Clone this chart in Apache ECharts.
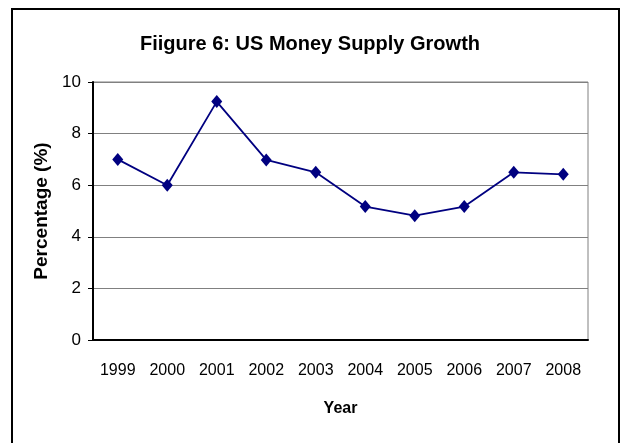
<!DOCTYPE html>
<html>
<head>
<meta charset="utf-8">
<script src="https://cdn.jsdelivr.net/npm/echarts@6/dist/echarts.min.js"></script>
<style>
  html, body { margin: 0; padding: 0; background: #fff; }
  #chart { width: 620px; height: 443px; }
</style>
</head>
<body>
<div id="chart"></div>
<script>
const years = ['1999', '2000', '2001', '2002', '2003', '2004', '2005', '2006', '2007', '2008'];
const growth = [7.0, 6.0, 9.24, 6.98, 6.5, 5.17, 4.82, 5.17, 6.5, 6.42];
const yTicks = { min: 0, max: 10, interval: 2 };

const font = '"Liberation Sans Narrow", "Arial Narrow", "Liberation Sans", Arial, sans-serif';

const chart = echarts.init(document.getElementById('chart'), null, { renderer: 'canvas' });
chart.setOption({
  animation: false,
  backgroundColor: '#fff',
  title: {
    text: 'Fiigure 6: US Money Supply Growth',
    left: 'center',
    top: 29,
    textStyle: { fontFamily: font, fontSize: 20, fontWeight: 'bold', color: '#000' },
  },
  graphic: [
    {
      type: 'rect',
      shape: { x: 12, y: 9, width: 607, height: 440 },
      style: { fill: 'none', stroke: '#000', lineWidth: 2 },
      silent: true,
    },
  ],
  grid: { left: 93, top: 82, width: 495, height: 258, show: true, borderColor: '#808080', borderWidth: 1 },
  xAxis: {
    type: 'category',
    data: years,
    boundaryGap: true,
    name: 'Year',
    nameLocation: 'middle',
    nameGap: 61,
    nameTextStyle: { fontFamily: font, fontSize: 16, fontWeight: 'bold', color: '#000' },
    axisLine: { lineStyle: { color: '#000', width: 2 } },
    axisTick: { show: false },
    axisLabel: { fontFamily: font, fontSize: 16, color: '#000', margin: 23 },
  },
  yAxis: {
    type: 'value',
    min: yTicks.min,
    max: yTicks.max,
    interval: yTicks.interval,
    name: 'Percentage (%)',
    nameLocation: 'middle',
    nameGap: 38,
    nameRotate: 90,
    nameTextStyle: { fontFamily: font, fontSize: 19, fontWeight: 'bold', color: '#000' },
    axisLine: { show: true, lineStyle: { color: '#000', width: 2 } },
    axisTick: { show: true, length: 5, lineStyle: { color: '#000' } },
    axisLabel: { fontFamily: font, fontSize: 17, color: '#000', margin: 12 },
    splitLine: { lineStyle: { color: '#808080', width: 1 } },
  },
  series: [
    {
      type: 'line',
      data: growth,
      symbol: 'diamond',
      symbolSize: [11, 13],
      lineStyle: { color: '#000080', width: 1.8 },
      itemStyle: { color: '#000080' },
    },
  ],
});
</script>
</body>
</html>
